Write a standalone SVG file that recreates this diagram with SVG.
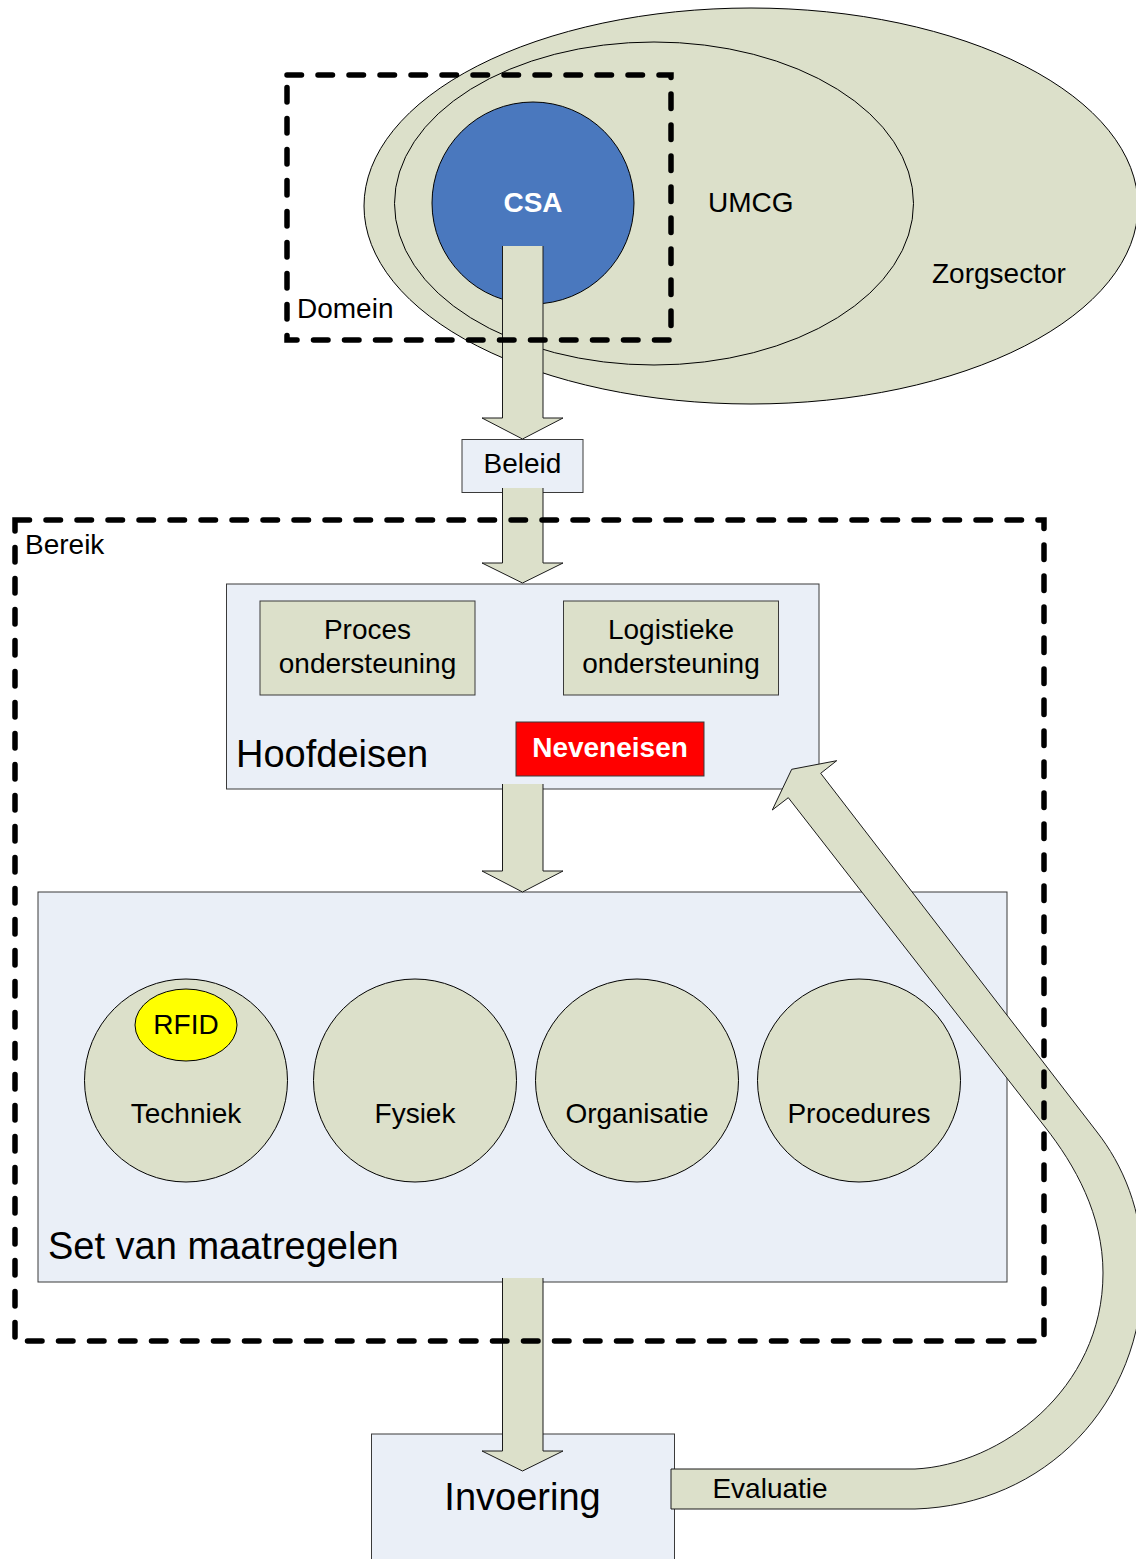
<svg xmlns="http://www.w3.org/2000/svg" width="1136" height="1559" viewBox="0 0 1136 1559">
  <style>
    text { font-family: "Liberation Sans", Arial, sans-serif; fill: #000; }
    .lbl { font-size: 28px; }
    .big { font-size: 38px; }
    .mid { text-anchor: middle; }
    .bold { font-weight: bold; fill: #fff; }
    .olive { fill: #DCE0CA; stroke: #000; stroke-width: 1; }
    .panel { fill: #EAEFF7; stroke: #3a3a3a; stroke-width: 1; }
    .box { fill: #DCE0CA; stroke: #3a3a3a; stroke-width: 1; }
    .shaft { fill: #DCE0CA; stroke: none; }
    .edge { fill: none; stroke: #1a1a1a; stroke-width: 1; stroke-linejoin: miter; }
    .dash { fill: none; stroke: #000; stroke-width: 5.5; stroke-dasharray: 14.5 16.5; stroke-linecap: round; }
  </style>

  <!-- nested scopes: sector, hospital, department -->
  <g id="zorgsector">
    <ellipse class="olive" cx="751" cy="206" rx="387" ry="198"/>
    <text class="lbl" x="932" y="283">Zorgsector</text>
  </g>
  <g id="umcg">
    <ellipse class="olive" cx="654" cy="203.5" rx="259.5" ry="161.5"/>
    <text class="lbl" x="708" y="212">UMCG</text>
  </g>
  <g id="csa">
    <circle cx="533" cy="203" r="101" fill="#4A78BE" stroke="#000" stroke-width="1"/>
    <text class="lbl mid bold" x="533" y="212">CSA</text>
  </g>

  <g id="beleid">
    <rect class="panel" x="462" y="439.5" width="121" height="53"/>
    <text class="lbl mid" x="522.5" y="473">Beleid</text>
  </g>

  <g id="hoofdeisen">
    <rect class="panel" x="226.5" y="584" width="592.5" height="205"/>
    <text class="big" x="236" y="767">Hoofdeisen</text>
  </g>
  <g id="procesondersteuning">
    <rect class="box" x="260" y="601" width="215" height="94"/>
    <text class="lbl mid" x="367.5" y="639">Proces</text>
    <text class="lbl mid" x="367.5" y="673">ondersteuning</text>
  </g>
  <g id="logistiekeondersteuning">
    <rect class="box" x="563.5" y="601" width="215" height="94"/>
    <text class="lbl mid" x="671" y="639">Logistieke</text>
    <text class="lbl mid" x="671" y="673">ondersteuning</text>
  </g>
  <g id="neveneisen">
    <rect x="516" y="722" width="188" height="54" fill="#FF0000" stroke="#3a3a3a" stroke-width="1"/>
    <text class="lbl mid bold" x="610" y="757">Neveneisen</text>
  </g>

  <g id="maatregelen">
    <rect class="panel" x="38" y="892" width="969" height="390"/>
    <text class="big" x="48" y="1259">Set van maatregelen</text>
  </g>
  <g id="techniek">
    <circle class="olive" cx="186" cy="1080.5" r="101.5"/>
    <text class="lbl mid" x="186" y="1123">Techniek</text>
  </g>
  <g id="rfid">
    <ellipse cx="186" cy="1025" rx="51" ry="36" fill="#FFFF00" stroke="#000" stroke-width="1"/>
    <text class="lbl mid" x="186" y="1034">RFID</text>
  </g>
  <g id="fysiek">
    <circle class="olive" cx="415" cy="1080.5" r="101.5"/>
    <text class="lbl mid" x="415" y="1123">Fysiek</text>
  </g>
  <g id="organisatie">
    <circle class="olive" cx="637" cy="1080.5" r="101.5"/>
    <text class="lbl mid" x="637" y="1123">Organisatie</text>
  </g>
  <g id="procedures">
    <circle class="olive" cx="859" cy="1080.5" r="101.5"/>
    <text class="lbl mid" x="859" y="1123">Procedures</text>
  </g>

  <g id="invoering">
    <rect class="panel" x="371.5" y="1434" width="303" height="140"/>
    <text class="big mid" x="522.5" y="1510">Invoering</text>
  </g>

  <!-- block arrows; the open path leaves the top of each shaft unstroked -->
  <g id="connectors">
    <g id="csa-beleid">
      <path class="shaft" d="M502.5 246 L502.5 418 L482 418 L522.5 439 L563 418 L543 418 L543 246 Z"/>
      <path class="edge" d="M502.5 246 L502.5 418 L482 418 L522.5 439 L563 418 L543 418 L543 246"/>
    </g>
    <g id="beleid-hoofdeisen">
      <path class="shaft" d="M502.5 488 L502.5 563 L482 563 L522.5 583 L563 563 L543 563 L543 488 Z"/>
      <path class="edge" d="M502.5 488 L502.5 563 L482 563 L522.5 583 L563 563 L543 563 L543 488"/>
    </g>
    <g id="hoofdeisen-maatregelen">
      <path class="shaft" d="M502.5 784 L502.5 871 L482 871 L522.5 892 L563 871 L543 871 L543 784 Z"/>
      <path class="edge" d="M502.5 784 L502.5 871 L482 871 L522.5 892 L563 871 L543 871 L543 784"/>
    </g>
    <g id="maatregelen-invoering">
      <path class="shaft" d="M502.5 1278 L502.5 1451 L482 1451 L522.5 1471 L563 1451 L543 1451 L543 1278 Z"/>
      <path class="edge" d="M502.5 1278 L502.5 1451 L482 1451 L522.5 1471 L563 1451 L543 1451 L543 1278"/>
    </g>
    <g id="evaluatie">
      <path fill="#DCE0CA" stroke="#1a1a1a" stroke-width="1" stroke-linejoin="miter"
            d="M671 1509 L915 1509 C1045 1505 1143 1405 1143 1270 C1143 1210 1122 1164 1097 1132
               L820.7 773.3 L836.7 760.7 L791.7 769.3 L772.3 810 L788.3 797.7
               L1045 1127 C1075 1165 1103 1215 1103 1273 C1103 1390 1000 1465 915 1469 L671 1469 Z"/>
      <text class="lbl mid" x="770" y="1498">Evaluatie</text>
    </g>
  </g>

  <!-- dashed scope frames -->
  <g id="domein">
    <rect class="dash" x="287" y="75" width="384" height="265"/>
    <text class="lbl" x="297" y="318">Domein</text>
  </g>
  <g id="bereik">
    <rect class="dash" x="15" y="520" width="1029" height="821"/>
    <text class="lbl" x="25" y="554">Bereik</text>
  </g>
</svg>
